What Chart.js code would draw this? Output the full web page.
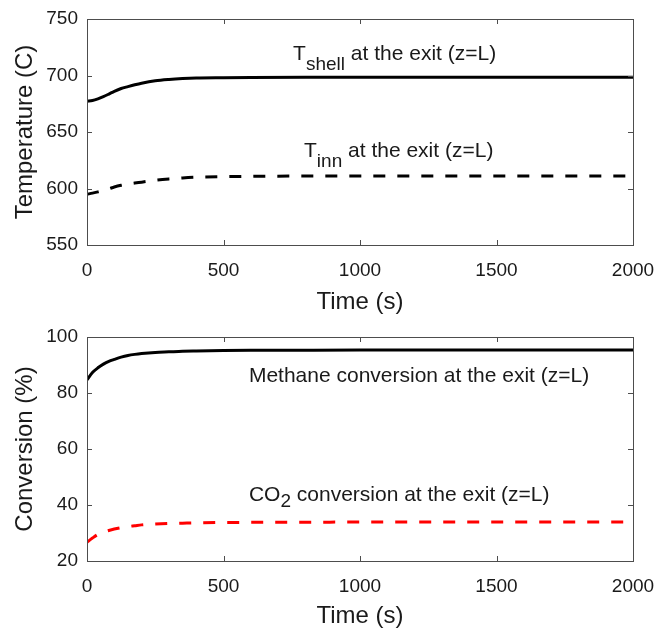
<!DOCTYPE html>
<html>
<head>
<meta charset="utf-8">
<script src="https://cdn.jsdelivr.net/npm/chart.js@4.4.0/dist/chart.umd.min.js"></script>
<style>
  body { margin: 0; background: #fff; }
  .panel { position: absolute; left: 0; width: 657px; height: 314px; }
</style>
</head>
<body>
<div class="panel" style="top:0"><canvas id="temp-chart" width="657" height="314"></canvas></div>
<div class="panel" style="top:314px"><canvas id="conv-chart" width="657" height="314"></canvas></div>
<script>
// values
const time = [0, 20, 40, 60, 80, 100, 125, 150, 175, 200, 250, 300, 350, 400, 500, 600, 800, 1000, 1500, 2000];
const tShell = [677.2, 677.8, 679.3, 681.3, 683.6, 686.0, 688.5, 690.2, 691.8, 693.2, 695.3, 696.5, 697.3, 697.8, 698.1, 698.3, 698.4, 698.4, 698.5, 698.5];
const tInner = [594.9, 595.9, 597.0, 598.3, 599.7, 601.3, 602.8, 603.9, 604.8, 605.6, 607.3, 608.5, 609.4, 610.0, 610.5, 610.8, 611.0, 611.0, 611.1, 611.1];
const methaneConv = [84.7, 87.3, 89.0, 90.3, 91.3, 92.0, 92.8, 93.4, 93.8, 94.1, 94.5, 94.7, 94.9, 95.0, 95.15, 95.25, 95.3, 95.35, 95.4, 95.4];
const co2Conv = [26.7, 28.2, 29.5, 30.3, 30.9, 31.4, 31.9, 32.3, 32.6, 32.9, 33.2, 33.4, 33.5, 33.6, 33.75, 33.8, 33.85, 33.9, 33.9, 33.9];

const timeTicks = [0, 500, 1000, 1500, 2000];
const tempTicks = [550, 600, 650, 700, 750];
const convTicks = [20, 40, 60, 80, 100];

const FONT = "'Liberation Sans', Arial, sans-serif";
const INK = "#1a1a1a";

/*-----frame + inward tick marks (matlab style)-----*/
const frameTicks = {
  id: "frameTicks",
  afterDraw(chart) {
    const { ctx, chartArea: a, scales } = chart;
    const len = 5;
    ctx.save();
    ctx.strokeStyle = "#4d4d4d";
    ctx.lineWidth = 1;
    ctx.beginPath();
    scales.x.ticks.forEach((t) => {
      const px = Math.round(scales.x.getPixelForValue(t.value)) + 0.5;
      ctx.moveTo(px, a.bottom); ctx.lineTo(px, a.bottom - len);
      ctx.moveTo(px, a.top); ctx.lineTo(px, a.top + len);
    });
    scales.y.ticks.forEach((t) => {
      const py = Math.round(scales.y.getPixelForValue(t.value)) + 0.5;
      ctx.moveTo(a.left, py); ctx.lineTo(a.left + len, py);
      ctx.moveTo(a.right, py); ctx.lineTo(a.right - len, py);
    });
    ctx.stroke();
    ctx.strokeRect(Math.round(a.left) + 0.5, Math.round(a.top) + 0.5,
      Math.round(a.right - a.left), Math.round(a.bottom - a.top));
    ctx.restore();
  },
};

/*-----text labels with subscripts-----*/
const notes = {
  id: "notes",
  afterDraw(chart, args, opts) {
    const { ctx, scales } = chart;
    ctx.save();
    ctx.fillStyle = INK;
    ctx.textBaseline = "alphabetic";
    ctx.textAlign = "left";
    (opts.items || []).forEach((item) => {
      let x = scales.x.getPixelForValue(item.x);
      const y = scales.y.getPixelForValue(item.y);
      item.parts.forEach((p) => {
        ctx.font = (p.sub ? 19 : 21) + "px " + FONT;
        ctx.fillText(p.text, x, y + (p.sub ? p.drop : 0));
        x += ctx.measureText(p.text).width;
      });
    });
    ctx.restore();
  },
};

function makeConfig(datasets, yTicks, yTitle, layoutTop, xHeight, items) {
  return {
    type: "line",
    data: { datasets: datasets },
    options: {
      responsive: false,
      animation: false,
      layout: { padding: { top: layoutTop, right: 24, left: 0, bottom: 0 } },
      plugins: {
        legend: { display: false },
        tooltip: { enabled: false },
        notes: { items: items },
      },
      elements: { point: { radius: 0 } },
      scales: {
        x: {
          type: "linear",
          min: 0,
          max: 2000,
          grid: { display: false, drawTicks: false },
          border: { display: false },
          afterBuildTicks: (s) => { s.ticks = timeTicks.map((v) => ({ value: v })); },
          afterFit: (s) => { s.height = xHeight; s.paddingLeft = 0; s.paddingRight = 0; },
          ticks: { color: INK, font: { family: FONT, size: 19 }, padding: 14, maxRotation: 0, callback: (v) => String(v) },
          title: { display: true, text: "Time (s)", color: INK, font: { family: FONT, size: 24, lineHeight: 1 }, padding: { bottom: 0 } },
        },
        y: {
          min: yTicks[0],
          max: yTicks[yTicks.length - 1],
          grid: { display: false, drawTicks: false },
          border: { display: false },
          afterBuildTicks: (s) => { s.ticks = yTicks.map((v) => ({ value: v })); },
          afterFit: (s) => { s.width = 87; s.paddingTop = 0; s.paddingBottom = 0; },
          ticks: { color: INK, font: { family: FONT, size: 19 }, padding: 9, callback: (v) => String(v) },
          title: { display: true, text: yTitle, color: INK, font: { family: FONT, size: 24, lineHeight: 1 }, padding: { top: 13 } },
        },
      },
    },
    plugins: [frameTicks, notes],
  };
}

function series(values, color, dashed) {
  return {
    data: time.map((t, i) => ({ x: t, y: values[i] })),
    borderColor: color,
    borderWidth: 3,
    borderDash: dashed ? [12, 12] : [],
    cubicInterpolationMode: "monotone",
    fill: false,
  };
}

new Chart(
  document.getElementById("temp-chart"),
  makeConfig(
    [series(tShell, "#000000", false), series(tInner, "#000000", true)],
    tempTicks,
    "Temperature (C)",
    19,
    69,
    [
      { x: 755, y: 713.7, parts: [{ text: "T" }, { text: "shell", sub: true, drop: 10 }, { text: " at the exit (z=L)" }] },
      { x: 795, y: 628.3, parts: [{ text: "T" }, { text: "inn", sub: true, drop: 10 }, { text: " at the exit (z=L)" }] },
    ]
  )
);

new Chart(
  document.getElementById("conv-chart"),
  makeConfig(
    [series(methaneConv, "#000000", false), series(co2Conv, "#ff0000", true)],
    convTicks,
    "Conversion (%)",
    23,
    67,
    [
      { x: 593, y: 83.8, parts: [{ text: "Methane conversion at the exit (z=L)" }] },
      { x: 593, y: 41.3, parts: [{ text: "CO" }, { text: "2", sub: true, drop: 6 }, { text: " conversion at the exit (z=L)" }] },
    ]
  )
);
</script>
</body>
</html>
